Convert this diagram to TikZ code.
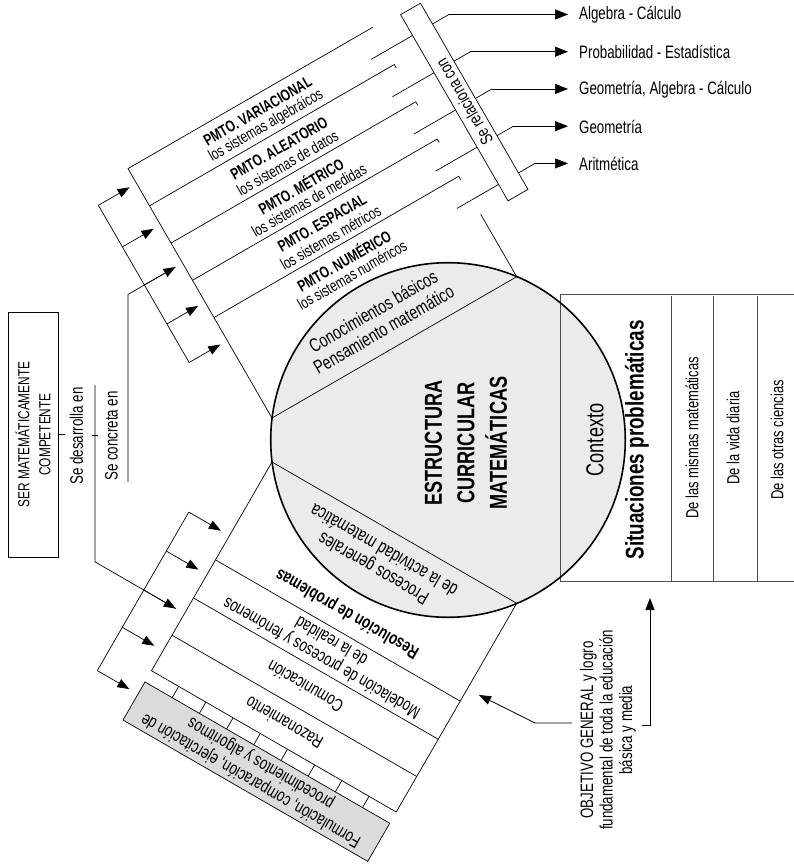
\documentclass[tikz,border=0pt]{standalone}
\usepackage{fontspec}
\setmainfont{Liberation Sans}[FakeStretch=0.74]
\usetikzlibrary{arrows.meta,calc}
\newcommand\myfs[2]{\fontsize{#1}{#2}\selectfont}
\begin{document}
\begin{tikzpicture}[x=1pt,y=-1pt,
  ln/.style={line width=0.7pt},
  boxln/.style={line width=0.8pt,draw=black!70},
  arr/.style={line width=0.7pt,-{Triangle[length=12pt,width=9pt]}},
  larr/.style={line width=0.7pt,-{Triangle[length=13pt,width=10pt]},shorten >=11pt},
  txt/.style={inner sep=0pt,align=center,font=\myfs{17.5}{20}},
  pb/.style={inner sep=0pt,font=\bfseries\myfs{16}{18},rotate=30},
  pn/.style={inner sep=0pt,font=\myfs{16}{18},rotate=30},
  lo/.style={inner sep=0pt,align=center,font=\myfs{18}{19.5},rotate=150},
  lab/.style={inner sep=0pt,anchor=west,font=\myfs{18}{20}},
  vt/.style={inner sep=0pt,align=center,rotate=90}]
\useasboundingbox (0,0) rectangle (794,864);
\coordinate (O1) at (272,418);
\coordinate (O2) at (272,462);
\coordinate (y482) at (0,482);
\coordinate (y385) at (0,385);
\def\W{282.6}

% circle fill
\fill[black!8] (448,440) circle[radius=177.3pt];

% Contexto box
\draw[boxln] (794,294) -- (560,294) -- (560,581) -- (794,581);
\foreach \x in {671,713,757} \draw[boxln] (\x,296) -- (\x,582);

% ---------------- upper block ----------------
\begin{scope}[shift={(O1)}, x={(0.866pt,0.5pt)}, y={(-0.5pt,0.866pt)}]
  \draw[ln] (0,0) -- (\W,0);
  \draw[ln] (0,0) -- (0,288) -- (\W,288);
  \foreach \t in {245,202,159,116} \draw[ln] (0,\t) -- (\W,\t) -- (\W,\t-4);
  \draw[ln] (\W,0) -- (\W,72);
  \foreach \t [count=\i] in {288,245,202,159,116}
    {\draw[ln] (265,\t-27) -- (355,\t-27) coordinate (bend\i);}
  \draw[ln,fill=white] (313,70) -- (336,70) -- (336,285) -- (313,285) -- cycle;
  \node[txt,rotate=120] (rel) at (324.5,177.5) {Se relaciona con};
  % bracket
  \draw[ln] (-44,271) -- (-44,89.5);
  \foreach \v in {271,223,179,134,89.5} \draw[arr] (-44,\v) -- (-8,\v);
  \coordinate (sc) at (-63,179);
  \coordinate (a3) at (-8,179);
  % labels
  \node[pb] (pv) at (141,273) {PMTO. VARIACIONAL};
  \node[pn] (pvs) at (141,256) {los sistemas algebráicos};
  \node[pb] (pa) at (141,230) {PMTO. ALEATORIO};
  \node[pn] (pas) at (141,213) {los sistemas de datos};
  \node[pb] (pm) at (141,187) {PMTO. MÉTRICO};
  \node[pn] (pms) at (141,170) {los sistemas de medidas};
  \node[pb] (pe) at (141,144) {PMTO. ESPACIAL};
  \node[pn] (pes) at (141,127) {los sistemas métricos};
  \node[pb] (pnu) at (141,101) {PMTO. NUMÉRICO};
  \node[pn] (pnus) at (141,84) {los sistemas numéricos};
  \node[inner sep=0pt,align=center,font=\myfs{19}{21},rotate=30] (con) at (141,31.5)
     {Conocimientos básicos\\Pensamiento matemático};
\end{scope}

% labels on the right
\node[lab] (L1) at (579,15) {Algebra - Cálculo};
\node[lab] (L2) at (579,52) {Probabilidad - Estadística};
\node[lab] (L3) at (579,89.5) {Geometría, Algebra - Cálculo};
\node[lab] (L4) at (579,126.5) {Geometría};
\node[lab] (L5) at (579,163.5) {Aritmética};
\foreach \i in {1,...,5} \draw[larr] (bend\i) -- (bend\i -| L\i.west);

% ---------------- lower block ----------------
\begin{scope}[shift={(O2)}, x={(0.866pt,-0.5pt)}, y={(-0.5pt,-0.866pt)}]
  \draw[ln] (0,0) -- (\W,0);
  \draw[ln] (0,0) -- (0,241) -- (\W,241) -- (\W,0);
  \foreach \t in {113,157,200} \draw[ln] (0,\t) -- (\W,\t);
  \draw[ln,fill=black!14] (0,254) -- (\W,254) -- (\W,298) -- (0,298) -- cycle;
  \foreach \k in {1,...,8} \draw[ln] ({\k*\W/9},241) -- ({\k*\W/9},254);
  \draw[ln] (-47,85) -- (-47,268);
  \foreach \v in {85,130,175,218,268} \draw[arr] (-47,\v) -- (-10,\v);
  \coordinate (sd) at (-103.3,175);
  \coordinate (b3) at (-10,175);
  \node[lo,font=\bfseries\myfs{18}{20}] (res) at (141,93) {Resolución de problemas};
  \node[lo] (mod) at (141,136) {Modelación de procesos y fenómenos\\de la realidad};
  \node[lo] (com) at (141,178) {Comunicación};
  \node[lo] (raz) at (141,220) {Razonamiento};
  \node[lo] (for) at (141,276) {Formulación, comparación, ejercitación de\\procedimientos y algoritmos};
  \node[lo,font=\myfs{19}{21}] (pro) at (141,31.5) {Procesos generales\\de la actividad matemática};
\end{scope}

% left side
\node[draw,ln,rotate=90,minimum width=245pt,minimum height=50pt,align=center,
      font=\myfs{16}{21}] (ser) at (33,434.5) {SER MATEMÁTICAMENTE\\COMPETENTE};
\draw[ln] (ser.south) -- ++(7,0);
\draw[ln] (92,435) -- (98,435);
\node[vt,font=\myfs{18}{20}] (sde) at (76.5,436) {Se desarrolla en};
\node[vt,font=\myfs{18}{20}] (sco) at (111.5,436) {Se concreta en};
\draw[ln] (sc |- y482) -- (sc) -- (a3);
\draw[ln] (sd |- y385) -- (sd) -- (b3);

% circle outline and texts
\node[circle,draw,line width=1.6pt,minimum size=354.6pt,inner sep=0pt] (circ) at (448,440) {};
\node[vt,font=\bfseries\myfs{24.5}{32.5}] (ecm) at (466,443) {ESTRUCTURA\\CURRICULAR\\MATEMÁTICAS};
\node[vt,font=\myfs{24.5}{26}] (ctx) at (595,440) {Contexto};
\node[vt,font=\bfseries\myfs{25.5}{28}] (sit) at (637,440) {Situaciones problemáticas};
\node[vt,font=\myfs{17.5}{19}] (d1) at (692,438) {De las mismas matemáticas};
\node[vt,font=\myfs{17.5}{19}] (d2) at (733,438) {De la vida diaria};
\node[vt,font=\myfs{17.5}{19}] (d3) at (777,440) {De las otras ciencias};

% objetivo
\node[vt,font=\myfs{18}{19.5}] (obj) at (608,730)
  {OBJETIVO GENERAL y logro\\fundamental de toda la educación\\básica y media};
\draw[arr] (572,723) -- (535,723) -- (479,695);
\draw[arr] (642,725) -- (650,725) -- (650,598);
\end{tikzpicture}
\end{document}
